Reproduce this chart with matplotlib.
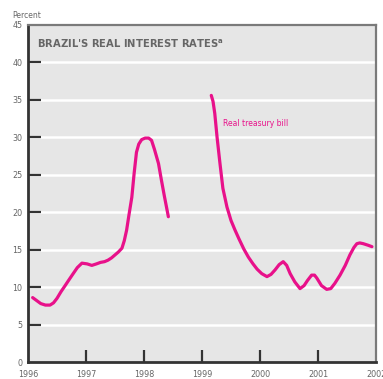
import matplotlib
matplotlib.use("Agg")
import matplotlib.pyplot as plt

# Brazil's real interest rates (percent), real treasury bill
seg1_x = [1996.08, 1996.15, 1996.22, 1996.30, 1996.38, 1996.44, 1996.50, 1996.57, 1996.64,
          1996.70, 1996.77, 1996.85, 1996.93, 1997.02, 1997.10, 1997.18, 1997.25, 1997.32,
          1997.38, 1997.44, 1997.50, 1997.56, 1997.62, 1997.66, 1997.70, 1997.74, 1997.79,
          1997.83, 1997.87, 1997.91, 1997.96, 1998.02, 1998.08, 1998.13, 1998.18, 1998.25,
          1998.30, 1998.35, 1998.42]
seg1_y = [8.6, 8.2, 7.8, 7.6, 7.6, 7.9, 8.5, 9.4, 10.2,
          10.9, 11.7, 12.6, 13.2, 13.1, 12.9, 13.1, 13.3, 13.4,
          13.6, 13.9, 14.3, 14.7, 15.2, 16.2, 17.6, 19.6, 22.0,
          25.2, 28.0, 29.1, 29.7, 29.9, 29.9, 29.6, 28.4, 26.5,
          24.3, 22.2, 19.4]

seg2_x = [1999.16, 1999.19, 1999.22, 1999.26, 1999.31, 1999.36, 1999.43, 1999.50, 1999.57,
          1999.64, 1999.72, 1999.80, 1999.88, 1999.95, 2000.03, 2000.12, 2000.19, 2000.26,
          2000.33, 2000.40, 2000.46, 2000.52, 2000.60, 2000.69, 2000.76, 2000.82, 2000.89,
          2000.94, 2000.98, 2001.06, 2001.15, 2001.22, 2001.29, 2001.38, 2001.47, 2001.55,
          2001.62, 2001.67, 2001.72, 2001.78, 2001.86, 2001.93]
seg2_y = [35.6, 34.8, 33.2, 30.0, 26.5, 23.2, 20.7, 18.9, 17.6,
          16.4, 15.1, 14.0, 13.1, 12.4, 11.8, 11.4, 11.7, 12.3,
          13.0, 13.4, 12.9, 11.8, 10.7, 9.8, 10.2, 10.9, 11.6,
          11.6, 11.2, 10.2, 9.7, 9.8, 10.5, 11.6, 12.9, 14.3,
          15.3, 15.8, 15.9, 15.8, 15.6, 15.4]

year_ticks = [1996, 1997, 1998, 1999, 2000, 2001, 2002]
year_labels = ["1996", "1997", "1998", "1999", "2000", "2001", "2002"]
y_ticks = [0, 5, 10, 15, 20, 25, 30, 35, 40, 45]

line_color = "#e8118a"
text_gray = "#666666"

fig = plt.figure(figsize=(3.83, 3.79), dpi=100)
ax = fig.add_axes([28 / 383, 17 / 379, 348 / 383, 337 / 379])
ax.set_facecolor("#e6e6e6")
ax.set_xlim(1996, 2002)
ax.set_ylim(0, 45)

for yv in y_ticks[1:-1]:
    ax.axhline(yv, color="white", lw=1.8, zorder=1)

ax.plot(seg1_x, seg1_y, color=line_color, lw=2.3, solid_capstyle="round",
        solid_joinstyle="round", zorder=3)
ax.plot(seg2_x, seg2_y, color=line_color, lw=2.3, solid_capstyle="round",
        solid_joinstyle="round", zorder=3)

ax.set_yticks(y_ticks)
ax.set_yticklabels([str(v) for v in y_ticks])
ax.set_xticks(year_ticks)
ax.set_xticklabels(year_labels)
ax.tick_params(axis="both", direction="in", length=9, width=1.6, color="#333333",
               labelsize=5.8, labelcolor=text_gray)
ax.tick_params(axis="x", pad=6)
ax.tick_params(axis="y", pad=4)
for t in ax.yaxis.get_major_ticks():
    if t.get_loc() in (0, 45):
        t.tick1line.set_visible(False)
for t in ax.xaxis.get_major_ticks():
    if t.get_loc() in (1996, 2002):
        t.tick1line.set_visible(False)

for side in ("left", "bottom"):
    ax.spines[side].set_color("#333333")
    ax.spines[side].set_linewidth(2.0)
for side in ("top", "right"):
    ax.spines[side].set_color("#7a7a7a")
    ax.spines[side].set_linewidth(1.6)

ax.text(0.025, 0.962, "BRAZIL'S REAL INTEREST RATES$^{\\mathbf{a}}$", transform=ax.transAxes,
        ha="left", va="top", fontsize=7.2, fontweight="bold", color=text_gray)
ax.text(1999.36, 31.9, "Real treasury bill", ha="left", va="center", fontsize=5.5,
        color=line_color)
fig.text(12 / 383, 1 - 15 / 379, "Percent", ha="left", va="center", fontsize=5.5,
         color=text_gray)

fig.savefig("out.png", dpi=100, facecolor="white")
